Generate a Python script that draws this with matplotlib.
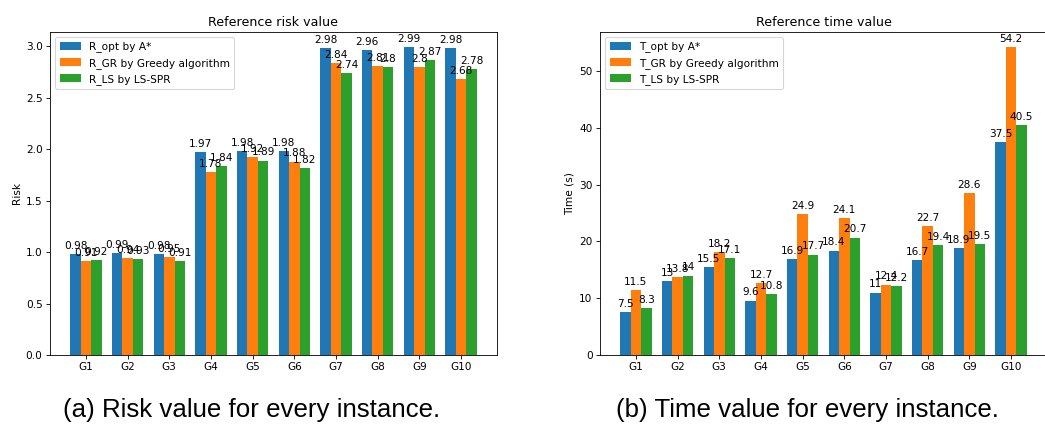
import numpy as np
import matplotlib
matplotlib.use("Agg")
import matplotlib.pyplot as plt

groups = ["G1", "G2", "G3", "G4", "G5", "G6", "G7", "G8", "G9", "G10"]

r_opt = [0.98, 0.99, 0.98, 1.97, 1.98, 1.98, 2.98, 2.96, 2.99, 2.98]
r_gr = [0.91, 0.94, 0.95, 1.78, 1.92, 1.88, 2.84, 2.81, 2.8, 2.68]
r_ls = [0.92, 0.93, 0.91, 1.84, 1.89, 1.82, 2.74, 2.8, 2.87, 2.78]

t_opt = [7.5, 13, 15.5, 9.6, 16.9, 18.4, 11, 16.7, 18.9, 37.5]
t_gr = [11.5, 13.8, 18.2, 12.7, 24.9, 24.1, 12.4, 22.7, 28.6, 54.2]
t_ls = [8.3, 14, 17.1, 10.8, 17.7, 20.7, 12.2, 19.4, 19.5, 40.5]

risk_names = ["R_opt by A*", "R_GR by Greedy algorithm", "R_LS by LS-SPR"]
time_names = ["T_opt by A*", "T_GR by Greedy algorithm", "T_LS by LS-SPR"]

DPI = 76
fig = plt.figure(figsize=(1045 / DPI, 428 / DPI), dpi=DPI)

W = 447 / 1045
B = 1 - 355 / 428
H = (355 - 32) / 428
ax1 = fig.add_axes([50 / 1045, B, W, H])
ax2 = fig.add_axes([600 / 1045, B, W, H])

x = np.arange(len(groups))
w = 0.25


def autolabel(ax, rects, vals):
    for r, v in zip(rects, vals):
        h = r.get_height()
        ax.annotate(f"{v}", xy=(r.get_x() + r.get_width() / 2, h),
                    xytext=(0, 3), textcoords="offset points",
                    ha="center", va="bottom")


def draw(ax, series, names, title, ylabel):
    for i, (vals, name) in enumerate(zip(series, names)):
        rects = ax.bar(x + (i - 1) * w, vals, w, label=name, color=f"C{i}")
        autolabel(ax, rects, vals)
    ax.set_xticks(x)
    ax.set_xticklabels(groups)
    ax.set_title(title)
    ax.set_ylabel(ylabel)
    ax.legend(loc="upper left")


draw(ax1, [r_opt, r_gr, r_ls], risk_names, "Reference risk value", "Risk")
draw(ax2, [t_opt, t_gr, t_ls], time_names, "Reference time value", "Time (s)")

cap_font = ["Liberation Sans", "DejaVu Sans"]
fig.text(252 / 1045, 1 - 410 / 428, "(a) Risk value for every instance.",
         ha="center", va="center", fontsize=24.5, family=cap_font)
fig.text(807 / 1045, 1 - 410 / 428, "(b) Time value for every instance.",
         ha="center", va="center", fontsize=24.5, family=cap_font)

fig.savefig("out.png", dpi=DPI)
